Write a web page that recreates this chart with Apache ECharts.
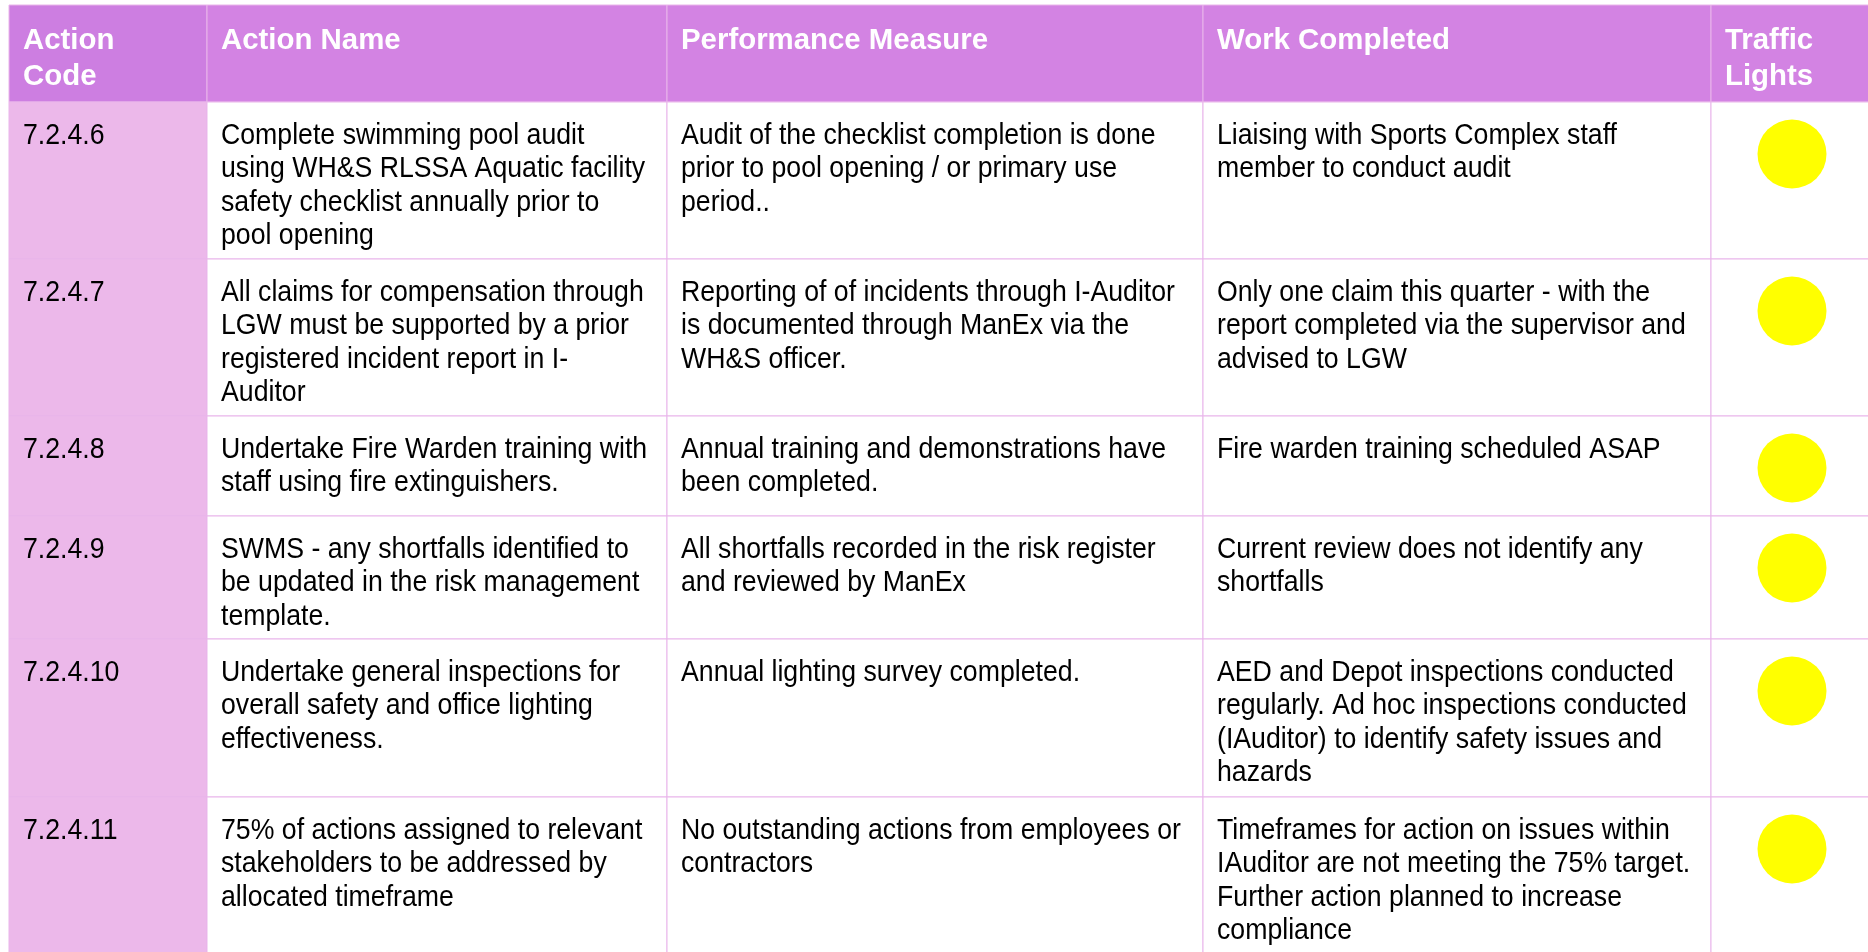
<!DOCTYPE html>
<html>
<head>
<meta charset="utf-8">
<script src="https://cdn.jsdelivr.net/npm/echarts@6/dist/echarts.min.js"></script>
<style>
html,body{margin:0;padding:0;background:#fff;}
#chart{width:1868px;height:952px;}
</style>
</head>
<body>
<div id="chart"></div>
<script>
// ---- data ----
var headers = ["Action\nCode", "Action Name", "Performance Measure", "Work Completed", "Traffic\nLights"];
var codes = ["7.2.4.6", "7.2.4.7", "7.2.4.8", "7.2.4.9", "7.2.4.10", "7.2.4.11"];
var actionNames = [
  "Complete swimming pool audit\nusing WH&S RLSSA Aquatic facility\nsafety checklist annually prior to\npool opening",
  "All claims for compensation through\nLGW must be supported by a prior\nregistered incident report in I-\nAuditor",
  "Undertake Fire Warden training with\nstaff using fire extinguishers.",
  "SWMS - any shortfalls identified to\nbe updated in the risk management\ntemplate.",
  "Undertake general inspections for\noverall safety and office lighting\neffectiveness.",
  "75% of actions assigned to relevant\nstakeholders to be addressed by\nallocated timeframe"
];
var measures = [
  "Audit of the checklist completion is done\nprior to pool opening / or primary use\nperiod..",
  "Reporting of of incidents through I-Auditor\nis documented through ManEx via the\nWH&S officer.",
  "Annual training and demonstrations have\nbeen completed.",
  "All shortfalls recorded in the risk register\nand reviewed by ManEx",
  "Annual lighting survey completed.",
  "No outstanding actions from employees or\ncontractors"
];
var workCompleted = [
  "Liaising with Sports Complex staff\nmember to conduct audit",
  "Only one claim this quarter - with the\nreport completed via the supervisor and\nadvised to LGW",
  "Fire warden training scheduled ASAP",
  "Current review does not identify any\nshortfalls",
  "AED and Depot inspections conducted\nregularly. Ad hoc inspections conducted\n(IAuditor) to identify safety issues and\nhazards",
  "Timeframes for action on issues within\nIAuditor are not meeting the 75% target.\nFurther action planned to increase\ncompliance"
];
var trafficLights = ["yellow", "yellow", "yellow", "yellow", "yellow", "yellow"];

// ---- layout (table geometry in axis units) ----
var colEdges = [9, 207, 667, 1203, 1711, 1875];
var rowEdges = [5, 102, 259, 416, 516, 639, 797, 960];
var lightColors = {yellow: "#ffff00", green: "#00b050", red: "#ff0000"};
var BODY_FONT = '26.7px Arial, "Liberation Sans", sans-serif';
var HEAD_FONT = 'bold 29.4px Arial, "Liberation Sans", sans-serif';
var STRETCH = 1.07;

var columns = [codes, actionNames, measures, workCompleted, trafficLights];
var cells = [];
for (var c = 0; c < headers.length; c++) {
  cells.push([c, 0]);
  for (var r = 0; r < codes.length; r++) cells.push([c, r + 1]);
}

var chart = echarts.init(document.getElementById('chart'), null, {renderer: 'canvas'});

function renderItem(params, api) {
  var c = api.value(0), r = api.value(1);
  var p0 = api.coord([colEdges[c], rowEdges[r]]);
  var p1 = api.coord([colEdges[c + 1], rowEdges[r + 1]]);
  var x = p0[0], y = p0[1], w = p1[0] - p0[0], h = p1[1] - p0[1];
  var children = [];
  var fill;
  if (r === 0) fill = c === 0 ? '#cd7ee1' : '#d383e3';
  else fill = c === 0 ? '#ecb8ea' : '#ffffff';
  children.push({
    type: 'rect',
    shape: {x: x, y: y, width: w, height: h},
    style: {fill: fill, stroke: '#e9b5ea', lineWidth: 1}
  });
  if (r === 0) {
    children.push({
      type: 'text',
      style: {
        x: x + 14, y: y + 17.5, text: headers[c],
        fill: '#ffffff', font: HEAD_FONT,
        lineHeight: 36, verticalAlign: 'top', align: 'left'
      }
    });
  } else if (c === 4) {
    var ctr = api.coord([colEdges[c] + 81, rowEdges[r] + 52]);
    children.push({
      type: 'circle',
      shape: {cx: ctr[0], cy: ctr[1], r: 34.5},
      style: {fill: lightColors[trafficLights[r - 1]]}
    });
  } else {
    var ty = y + 17.5;
    children.push({
      type: 'text',
      scaleY: STRETCH,
      originX: x + 14, originY: ty,
      style: {
        x: x + 14, y: ty, text: columns[c][r - 1],
        fill: '#000000', font: BODY_FONT,
        lineHeight: 33.4 / STRETCH, verticalAlign: 'top', align: 'left'
      }
    });
  }
  return {type: 'group', children: children};
}

chart.setOption({
  animation: false,
  grid: {left: 0, right: 0, top: 0, bottom: 0},
  xAxis: {type: 'value', min: 0, max: 1868, show: false},
  yAxis: {type: 'value', min: 0, max: 952, inverse: true, show: false},
  series: [{
    type: 'custom',
    renderItem: renderItem,
    data: cells,
    clip: true
  }]
});
</script>
</body>
</html>
